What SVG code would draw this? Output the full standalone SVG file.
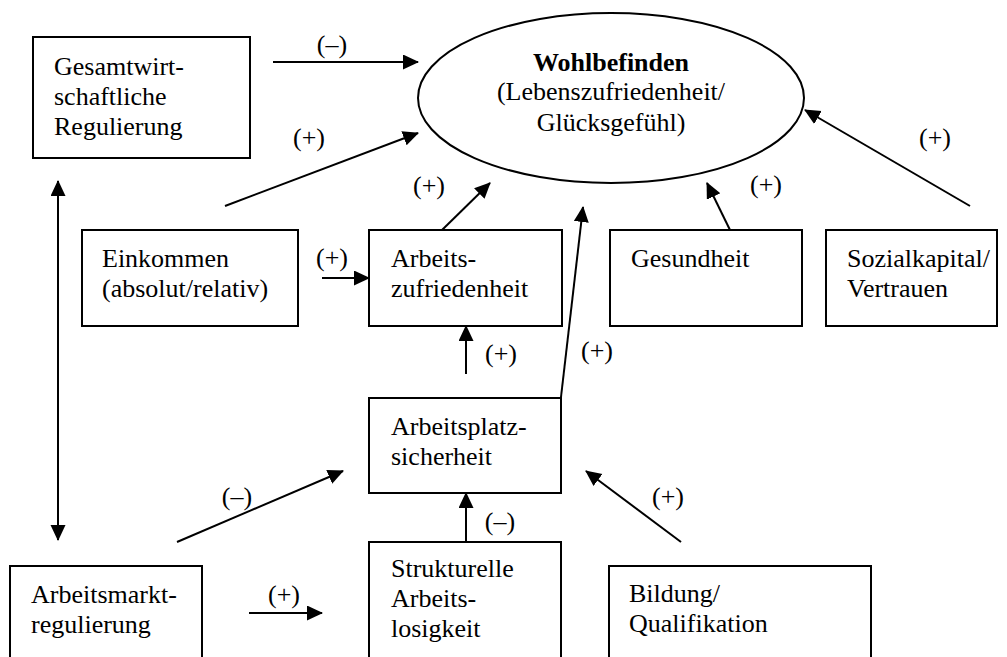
<svg xmlns="http://www.w3.org/2000/svg" width="1007" height="657" viewBox="0 0 1007 657">
<style>
  .box { fill: #fff; stroke: #000; stroke-width: 2; }
  .t { font-family: "Liberation Serif", "Times New Roman", serif; font-size: 26px; fill: #000; }
  .b { font-weight: bold; }
  .c { text-anchor: middle; }
  .ln { stroke: #000; stroke-width: 2; fill: none; marker-end: url(#ah); }
</style>
<defs>
  <marker id="ah" markerUnits="userSpaceOnUse" markerWidth="16" markerHeight="16" refX="15" refY="7.5" orient="auto-start-reverse">
    <path d="M0,0 L16,7.5 L0,15 z" fill="#000"/>
  </marker>
</defs>
<rect width="1007" height="657" fill="#fff"/>

<g id="wohlbefinden">
  <ellipse cx="611" cy="98" rx="193" ry="85" fill="#fff" stroke="#000" stroke-width="2"/>
  <text class="t b c" x="611" y="71">Wohlbefinden</text>
  <text class="t c" x="611" y="100">(Lebenszufriedenheit/</text>
  <text class="t c" x="611" y="131">Glücksgefühl)</text>
</g>
<g id="gesamt">
  <rect class="box" x="33" y="37" width="217" height="121"/>
  <text class="t" x="54" y="75">Gesamtwirt-</text>
  <text class="t" x="54" y="105">schaftliche</text>
  <text class="t" x="54" y="135">Regulierung</text>
</g>
<g id="einkommen">
  <rect class="box" x="82" y="230" width="216" height="96"/>
  <text class="t" x="102" y="267">Einkommen</text>
  <text class="t" x="102" y="297">(absolut/relativ)</text>
</g>
<g id="arbeitszufriedenheit">
  <rect class="box" x="369" y="230" width="193" height="96"/>
  <text class="t" x="391" y="267">Arbeits-</text>
  <text class="t" x="391" y="297">zufriedenheit</text>
</g>
<g id="gesundheit">
  <rect class="box" x="610" y="230" width="192" height="96"/>
  <text class="t" x="631" y="267">Gesundheit</text>
</g>
<g id="sozialkapital">
  <rect class="box" x="826" y="230" width="171" height="96"/>
  <text class="t" x="847" y="267">Sozialkapital/</text>
  <text class="t" x="847" y="297">Vertrauen</text>
</g>
<g id="arbeitsplatzsicherheit">
  <rect class="box" x="369" y="398" width="192" height="95"/>
  <text class="t" x="391" y="435">Arbeitsplatz-</text>
  <text class="t" x="391" y="465">sicherheit</text>
</g>
<g id="arbeitsmarktregulierung">
  <rect class="box" x="10" y="566" width="192" height="110"/>
  <text class="t" x="31" y="603">Arbeitsmarkt-</text>
  <text class="t" x="31" y="633">regulierung</text>
</g>
<g id="strukturelle">
  <rect class="box" x="369" y="542" width="192" height="130"/>
  <text class="t" x="391" y="577">Strukturelle</text>
  <text class="t" x="391" y="607">Arbeits-</text>
  <text class="t" x="391" y="637">losigkeit</text>
</g>
<g id="bildung">
  <rect class="box" x="609" y="566" width="262" height="110"/>
  <text class="t" x="629" y="602">Bildung/</text>
  <text class="t" x="629" y="632">Qualifikation</text>
</g>

<g id="connectors">
  <line class="ln" x1="273" y1="62" x2="418" y2="62"/>
  <line class="ln" x1="225" y1="206" x2="418" y2="133"/>
  <line class="ln" x1="442" y1="230" x2="490" y2="183"/>
  <line class="ln" x1="561" y1="397" x2="583" y2="207"/>
  <line class="ln" x1="730" y1="230" x2="707" y2="183"/>
  <line class="ln" x1="970" y1="206" x2="805" y2="110"/>
  <line class="ln" x1="322" y1="278" x2="369" y2="278"/>
  <line class="ln" x1="466" y1="374" x2="466" y2="326"/>
  <line class="ln" x1="58" y1="181" x2="58" y2="540" marker-start="url(#ah)"/>
  <line class="ln" x1="177" y1="542" x2="343" y2="471"/>
  <line class="ln" x1="466" y1="542" x2="466" y2="493"/>
  <line class="ln" x1="681" y1="542" x2="586" y2="471"/>
  <line class="ln" x1="249" y1="613" x2="322" y2="613"/>

  <text class="t c" x="332" y="53">(–)</text>
  <text class="t c" x="309" y="146">(+)</text>
  <text class="t c" x="429" y="194">(+)</text>
  <text class="t c" x="766" y="193">(+)</text>
  <text class="t c" x="935" y="146">(+)</text>
  <text class="t c" x="332" y="266">(+)</text>
  <text class="t c" x="501" y="362">(+)</text>
  <text class="t c" x="597" y="359">(+)</text>
  <text class="t c" x="237" y="505">(–)</text>
  <text class="t c" x="500" y="530">(–)</text>
  <text class="t c" x="668" y="505">(+)</text>
  <text class="t c" x="284" y="603">(+)</text>
</g>
</svg>
